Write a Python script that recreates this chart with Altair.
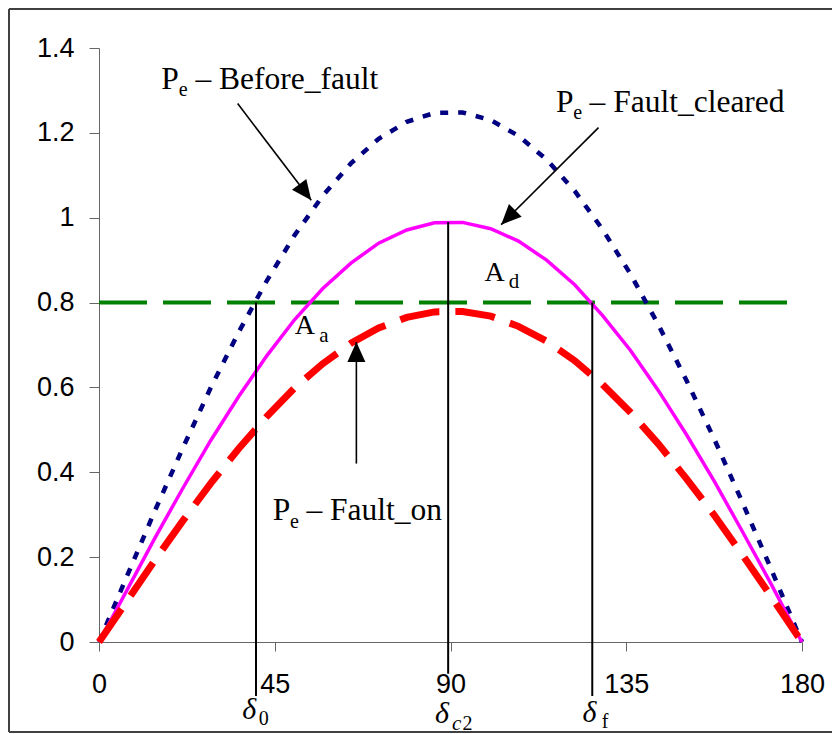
import altair as alt
import pandas as pd

# ---- data ----
delta_deg = [0, 7.2, 14.3, 21.5, 28.6, 35.8, 43.0, 50.1, 57.3, 64.5, 71.6, 78.8, 85.9,
             93.1, 100.3, 107.4, 114.6, 121.8, 128.9, 136.1, 143.2, 150.4, 157.6, 164.7,
             171.9, 179.0, 180]
pe_before = [0, 0.156, 0.309, 0.458, 0.599, 0.731, 0.852, 0.959, 1.052, 1.128, 1.186, 1.226,
             1.247, 1.248, 1.230, 1.193, 1.137, 1.063, 0.973, 0.867, 0.748, 0.617, 0.477,
             0.330, 0.176, 0.021, 0]
pe_cleared = [0, 0.123, 0.245, 0.363, 0.475, 0.579, 0.675, 0.760, 0.833, 0.893, 0.940, 0.971,
              0.988, 0.989, 0.974, 0.945, 0.900, 0.842, 0.770, 0.687, 0.593, 0.489, 0.378,
              0.261, 0.140, 0.016, 0]
pe_fault_on = [0, 0.097, 0.193, 0.286, 0.374, 0.456, 0.532, 0.599, 0.656, 0.704, 0.740, 0.765,
               0.778, 0.779, 0.768, 0.744, 0.709, 0.663, 0.607, 0.541, 0.467, 0.385, 0.298,
               0.206, 0.110, 0.013, 0]
pm_level = [0.8]
pm_range = [0, 180]

# vertical marker lines (delta_0, delta_c2, delta_f)
mark_x = [40.2, 89.4, 126.3]
mark_top = [0.8, 0.99, 0.8]
mark_bottom = [-0.127, -0.075, -0.127]

# arrows
arrow_x = [35.5, 127.9, 65.9]
arrow_y = [1.269, 1.2123, 0.4205]
arrow_tip_x = [54.35, 102.97, 65.9]
arrow_tip_y = [1.041, 0.9837, 0.707]
arrow_angle = [142.7, 225, 0]

# annotation texts (upright serif)
ann_text = ["P", "e", "\u2013 Before_fault", "P", "e", "\u2013 Fault_cleared",
            "P", "e", "\u2013 Fault_on", "A", "a", "A", "d", "0", "2", "f"]
ann_x = [15.97, 20.4, 24.7, 117.0, 121.4, 125.6, 44.5, 48.9, 53.1,
         50.1, 56.4, 98.7, 104.9, 40.9, 93.1, 128.7]
ann_y = [1.304, 1.286, 1.304, 1.249, 1.232, 1.249, 0.2868, 0.268, 0.2868,
         0.727, 0.707, 0.852, 0.835, -0.196, -0.208, -0.2027]
ann_size = [31.5, 20, 31.5, 31.5, 20, 31.5, 31.5, 20, 31.5, 28, 21, 28, 21, 20, 20, 20]

# italic annotation texts
ital_text = ["\u03b4", "\u03b4", "\u03b4", "c"]
ital_x = [36.7, 86.0, 123.8, 90.4]
ital_y = [-0.182, -0.192, -0.1885, -0.208]
ital_size = [30, 30, 30, 21]

x_ticks = [0, 45, 90, 135, 180]
y_ticks = [0, 0.2, 0.4, 0.6, 0.8, 1.0, 1.2, 1.4]

# ---- tables ----
curves = pd.DataFrame({"delta": delta_deg, "before": pe_before,
                       "cleared": pe_cleared, "fault_on": pe_fault_on})
level = pd.DataFrame({"x0": [pm_range[0]], "x1": [pm_range[1]], "y": pm_level})
marks = pd.DataFrame({"x": mark_x, "top": mark_top, "bottom": mark_bottom})
arrows = pd.DataFrame({"x": arrow_x, "y": arrow_y, "tx": arrow_tip_x,
                       "ty": arrow_tip_y, "ang": arrow_angle})
ann = pd.DataFrame({"x": ann_x, "y": ann_y, "t": ann_text, "s": ann_size})
ital = pd.DataFrame({"x": ital_x, "y": ital_y, "t": ital_text, "s": ital_size})
one = pd.DataFrame({"a": [0]})

xs = alt.Scale(domain=[0, 180], nice=False, zero=False)
ys = alt.Scale(domain=[0, 1.4], nice=False, zero=False)
x_axis = alt.Axis(values=x_ticks, title=None, grid=False, tickSize=9, labelPadding=20,
                  labelFontSize=27, labelFont="Liberation Sans", labelColor="black",
                  domainColor="#666666", tickColor="#666666", labelFlush=False)
y_axis = alt.Axis(values=y_ticks, title=None, grid=False, tickSize=10, labelPadding=15,
                  labelFontSize=27, labelFont="Liberation Sans", labelColor="black",
                  domainColor="#666666", tickColor="#666666", format="~g", labelFlush=False)


def X(f):
    return alt.X(f, scale=xs, axis=x_axis)


def Y(f):
    return alt.Y(f, scale=ys, axis=y_axis)


green = alt.Chart(level).mark_rule(color="#008000", strokeWidth=4, strokeDash=[48, 16]).encode(
    x=X("x0:Q"), x2="x1:Q", y=Y("y:Q"))
blue = alt.Chart(curves).mark_line(color="#000080", strokeWidth=4.5, strokeDash=[8, 10]).encode(
    x=X("delta:Q"), y=Y("before:Q"))
magenta = alt.Chart(curves).mark_line(color="#FF00FF", strokeWidth=3.5).encode(
    x=X("delta:Q"), y=Y("cleared:Q"))
red = alt.Chart(curves).mark_line(color="#FF0000", strokeWidth=7, strokeDash=[40, 16]).encode(
    x=X("delta:Q"), y=Y("fault_on:Q"))

vlines = alt.Chart(marks).mark_rule(color="black", strokeWidth=2, clip=False).encode(
    x=X("x:Q"), y=Y("top:Q"), y2="bottom:Q")

arrow_lines = alt.Chart(arrows).mark_rule(color="black", strokeWidth=1.6, clip=False).encode(
    x=X("x:Q"), y=Y("y:Q"), x2="tx:Q", y2="ty:Q")
arrow_heads = alt.Chart(arrows).mark_point(
    shape="M0,0L-0.45,1L0.45,1Z", filled=True, size=1600, color="black",
    opacity=1, strokeWidth=0, clip=False).encode(
    x=X("tx:Q"), y=Y("ty:Q"), angle=alt.Angle("ang:Q", scale=None))

texts = alt.Chart(ann).mark_text(font="Liberation Serif", align="left", baseline="alphabetic",
                                 color="black", clip=False).encode(
    x=X("x:Q"), y=Y("y:Q"), text="t:N", size=alt.Size("s:Q", scale=None, legend=None))
itexts = alt.Chart(ital).mark_text(font="Liberation Serif", fontStyle="italic", align="left",
                                   baseline="alphabetic", color="black", clip=False).encode(
    x=X("x:Q"), y=Y("y:Q"), text="t:N", size=alt.Size("s:Q", scale=None, legend=None))

# outer frame
frame_left = alt.Chart(one).mark_rule(color="#404040", strokeWidth=2, clip=False).encode(
    x=alt.value(-90), y=alt.value(-39), y2=alt.value(684))
frame_top = alt.Chart(one).mark_rule(color="#404040", strokeWidth=2, clip=False).encode(
    x=alt.value(-90), x2=alt.value(760), y=alt.value(-39))
frame_bottom = alt.Chart(one).mark_rule(color="#404040", strokeWidth=2, clip=False).encode(
    x=alt.value(-90), x2=alt.value(760), y=alt.value(684))

chart = alt.layer(
    green, blue, magenta, red, vlines, arrow_lines, arrow_heads, texts, itexts,
    frame_left, frame_top, frame_bottom
).properties(
    width=703, height=594,
    autosize=alt.AutoSizeParams(type="none"),
    padding={"left": 91, "top": 40, "right": 30, "bottom": 92},
    background="white",
).configure_view(stroke=None)

chart.save("out.html", embed_options={"renderer": "svg", "actions": False})
